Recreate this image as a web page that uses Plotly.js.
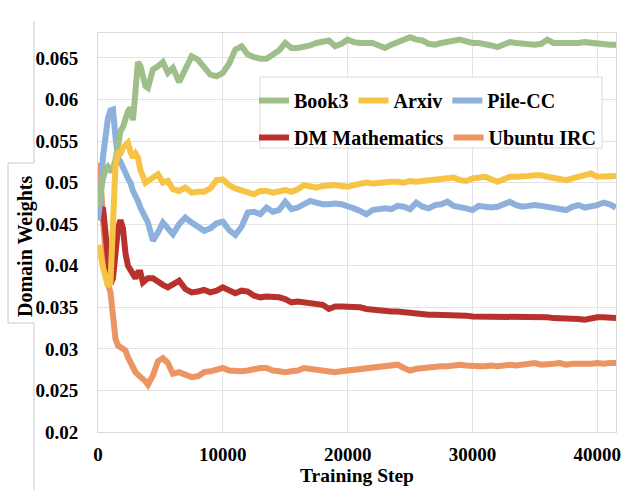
<!DOCTYPE html>
<html>
<head>
<meta charset="utf-8">
<script src="https://cdn.plot.ly/plotly-3.0.1.min.js"></script>
<style>html,body{margin:0;padding:0;background:#fff;}#chart{width:636px;height:502px;}</style>
</head>
<body>
<div id="chart"></div>
<script>
const steps = [
  0,200,400,600,800,1000,1200,1400,1600,1800,
  2000,2200,2400,2600,2800,3000,3200,3400,3600,3800,
  4000,4400,4800,5200,5600,6000,6500,7000,7500,8000,
  8500,9000,9500,10000,10500,11000,11500,12000,12500,13000,
  13500,14000,14500,15000,15500,16000,16500,17000,17500,18000,
  18500,19000,19500,20000,20500,21000,21500,22000,22500,23000,
  23500,24000,24500,25000,25500,26000,26500,27000,27500,28000,
  28500,29000,29500,30000,30500,31000,31500,32000,32500,33000,
  33500,34000,34500,35000,35500,36000,36500,37000,37500,38000,
  38500,39000,39500,40000,40500,41000,41500
];
const book3 = [
  0.047,0.049,0.0505,0.0515,0.0519,0.0515,0.0517,0.0527,0.0552,0.0562,
  0.0567,0.0578,0.0586,0.059,0.0575,0.061,0.0645,0.064,0.0628,0.0616,
  0.0614,0.0636,0.064,0.0645,0.0632,0.0638,0.0621,0.0638,0.0652,0.0648,
  0.0638,0.063,0.0628,0.0632,0.0643,0.066,0.0664,0.0654,0.0651,0.0649,
  0.0649,0.0655,0.0659,0.0668,0.0662,0.0662,0.0663,0.0665,0.0668,0.067,
  0.0671,0.0664,0.0667,0.0672,0.0669,0.0668,0.0668,0.0668,0.0665,0.0662,
  0.0666,0.0669,0.0672,0.0675,0.0672,0.0671,0.0667,0.0666,0.0668,0.0669,
  0.0671,0.0672,0.067,0.0668,0.0668,0.0667,0.0665,0.0663,0.0666,0.0669,
  0.0668,0.0667,0.0666,0.0666,0.0667,0.0672,0.0668,0.0668,0.0667,0.0668,
  0.0668,0.0669,0.0668,0.0667,0.0667,0.0666,0.0666
];
const arxiv = [
  0.0425,0.0415,0.0398,0.0382,0.0375,0.038,0.046,0.052,0.0535,0.0535,
  0.0542,0.0545,0.0548,0.0537,0.053,0.0535,0.053,0.0515,0.0505,0.05,
  0.0502,0.0505,0.051,0.05,0.0502,0.0492,0.049,0.0494,0.0488,0.0489,
  0.0489,0.0493,0.0503,0.0504,0.0497,0.0493,0.0491,0.0489,0.0486,0.049,
  0.049,0.0488,0.049,0.0491,0.0489,0.0492,0.0497,0.0496,0.0494,0.0496,
  0.0497,0.0497,0.0496,0.0495,0.0497,0.0499,0.05,0.0499,0.05,0.05,
  0.0501,0.0501,0.05,0.0502,0.0501,0.0502,0.0503,0.0503,0.0504,0.0505,
  0.0506,0.0503,0.0502,0.0505,0.0506,0.0507,0.0504,0.0501,0.0504,0.0507,
  0.0507,0.0507,0.0508,0.0509,0.0509,0.0507,0.0506,0.0505,0.0503,0.0505,
  0.0507,0.051,0.0511,0.0507,0.0507,0.0508,0.0508
];
const pileCC = [
  0.0455,0.048,0.0531,0.0558,0.0578,0.0587,0.0588,0.0555,0.053,0.0525,
  0.052,0.0512,0.0505,0.05,0.049,0.0485,0.0478,0.047,0.0462,0.0458,
  0.0452,0.043,0.044,0.0452,0.0445,0.0438,0.045,0.0458,0.0452,0.0448,
  0.0442,0.0445,0.0451,0.0453,0.0443,0.0437,0.0447,0.0464,0.0465,0.0462,
  0.047,0.0465,0.0467,0.0477,0.0468,0.047,0.0474,0.0478,0.0476,0.0474,
  0.0474,0.0475,0.0474,0.0472,0.0469,0.0466,0.0462,0.0467,0.0468,0.0469,
  0.0468,0.0472,0.0471,0.0468,0.0476,0.0471,0.0469,0.0473,0.0474,0.0477,
  0.0472,0.0471,0.0469,0.0467,0.0472,0.0471,0.047,0.0471,0.0474,0.0477,
  0.0473,0.0471,0.0472,0.0473,0.0472,0.0471,0.047,0.0469,0.0467,0.0471,
  0.0473,0.047,0.0471,0.0473,0.0476,0.0474,0.047
];
const dmMath = [
  0.0455,0.0467,0.047,0.044,0.0395,0.0378,0.0385,0.042,0.0445,0.0455,
  0.0445,0.0415,0.04,0.0395,0.0388,0.0385,0.0392,0.0392,0.038,0.0382,
  0.0385,0.0385,0.038,0.0377,0.0374,0.0378,0.0382,0.0372,0.0368,0.0369,
  0.0371,0.0368,0.037,0.0374,0.0371,0.0367,0.037,0.0369,0.0364,0.0362,
  0.0363,0.0363,0.0362,0.036,0.0356,0.0357,0.0356,0.0356,0.0355,0.0353,
  0.0348,0.0351,0.0351,0.0351,0.035,0.035,0.0348,0.0347,0.0347,0.0346,
  0.0345,0.0345,0.0344,0.0344,0.0343,0.0342,0.0341,0.0341,0.0341,0.0341,
  0.0341,0.0341,0.034,0.0339,0.0339,0.0339,0.0339,0.0339,0.0339,0.0338,
  0.0338,0.0338,0.0338,0.0338,0.0338,0.0338,0.0337,0.0337,0.0337,0.0337,
  0.0336,0.0335,0.0337,0.0338,0.0338,0.0337,0.0337
];
const ubuntuIRC = [
  0.0524,0.0505,0.0455,0.0405,0.0378,0.0368,0.0342,0.0312,0.0304,0.0302,
  0.0301,0.0298,0.029,0.0283,0.0277,0.0272,0.0269,0.0267,0.0265,0.0261,
  0.0257,0.0268,0.0285,0.0289,0.0283,0.027,0.0272,0.0268,0.0266,0.0267,
  0.0272,0.0273,0.0275,0.0277,0.0274,0.0273,0.0273,0.0274,0.0276,0.0277,
  0.0277,0.0274,0.0273,0.0272,0.0273,0.0274,0.0277,0.0276,0.0275,0.0274,
  0.0273,0.0272,0.0273,0.0274,0.0274,0.0275,0.0276,0.0277,0.0278,0.0279,
  0.028,0.0281,0.0277,0.0274,0.0276,0.0277,0.0278,0.0278,0.0279,0.0279,
  0.028,0.0281,0.028,0.0279,0.0279,0.0279,0.028,0.0279,0.028,0.0281,
  0.028,0.0281,0.0282,0.0283,0.0281,0.0281,0.0282,0.0283,0.0281,0.0282,
  0.0282,0.0281,0.0282,0.0283,0.0282,0.0283,0.0283
];
const xTicks = [0, 10000, 20000, 30000, 40000];
const yTicks = [0.02, 0.025, 0.03, 0.035, 0.04, 0.045, 0.05, 0.055, 0.06, 0.065];

const FONT = 'Liberation Serif, Times New Roman, serif';
function tr(name, y, color, legend, rank) {
  return {x: steps, y: y, name: name, type: 'scatter', mode: 'lines',
          line: {color: color, width: 6}, legend: legend, legendrank: rank};
}
const data = [
  tr('Ubuntu IRC', ubuntuIRC, '#ec9462', 'legend2', 2),
  tr('DM Mathematics', dmMath, '#b8312c', 'legend2', 1),
  tr('Pile-CC', pileCC, '#8db0dc', 'legend', 3),
  tr('Book3', book3, '#9fbf8a', 'legend', 1),
  tr('Arxiv', arxiv, '#f7c343', 'legend', 2)
];

const px = v => (v - 98) / 518;
const py = v => (432 - v) / 399;
const legFont = {family: FONT, size: 20, color: '#000', weight: 'bold'};
const layout = {
  width: 636, height: 502,
  margin: {l: 98, r: 20, t: 33, b: 70},
  paper_bgcolor: '#ffffff', plot_bgcolor: '#ffffff',
  font: {family: FONT, size: 19, color: '#000', weight: 'bold'},
  xaxis: {
    range: [0, 41500], tickvals: xTicks, tickformat: 'd',
    showgrid: true, gridcolor: '#e3e3e3', gridwidth: 1,
    showline: true, mirror: true, linecolor: '#d9d9d9', linewidth: 1,
    zeroline: false, ticks: 'outside', ticklen: 5, tickcolor: 'rgba(0,0,0,0)',
    tickfont: {family: FONT, size: 19, color: '#000', weight: 'bold'},
    title: {text: 'Training Step', standoff: 4,
            font: {family: FONT, size: 19.5, color: '#000', weight: 'bold'}}
  },
  yaxis: {
    range: [0.02, 0.068], tickvals: yTicks,
    showgrid: true, gridcolor: '#e3e3e3', gridwidth: 1,
    showline: true, mirror: true, linecolor: '#d9d9d9', linewidth: 1,
    zeroline: false, ticks: 'outside', ticklen: 15, tickcolor: 'rgba(0,0,0,0)',
    tickfont: {family: FONT, size: 19, color: '#000', weight: 'bold'}
  },
  showlegend: true,
  legend: {
    orientation: 'h', x: px(254), y: py(81), xanchor: 'left', yanchor: 'top',
    bgcolor: 'rgba(255,255,255,0)', borderwidth: 0, traceorder: 'normal',
    font: legFont
  },
  legend2: {
    orientation: 'h', x: px(254), y: py(118), xanchor: 'left', yanchor: 'top',
    bgcolor: 'rgba(255,255,255,0)', borderwidth: 0, traceorder: 'normal',
    font: legFont
  },
  annotations: [{
    text: 'Domain Weights', textangle: -90, showarrow: false,
    xref: 'paper', yref: 'paper', x: px(25), y: py(246),
    xanchor: 'center', yanchor: 'middle',
    font: {family: FONT, size: 20, color: '#000', weight: 'bold'}
  }],
  shapes: [
    {type: 'rect', xref: 'paper', yref: 'paper', x0: px(260), x1: px(602), y0: py(148), y1: py(77),
     line: {color: '#d9d9d9', width: 1}, fillcolor: '#ffffff', layer: 'above'},
    {type: 'path', xref: 'paper', yref: 'paper',
     path: 'M ' + px(34) + ',' + py(21) + ' L ' + px(34) + ',' + py(163) + ' L ' + px(8) + ',' + py(163) +
           ' L ' + px(8) + ',' + py(323) + ' L ' + px(34) + ',' + py(323) + ' L ' + px(34) + ',' + py(490),
     line: {color: '#c8c8c8', width: 1}}
  ]
};
Plotly.newPlot('chart', data, layout, {staticPlot: true, displayModeBar: false});
</script>
</body>
</html>
